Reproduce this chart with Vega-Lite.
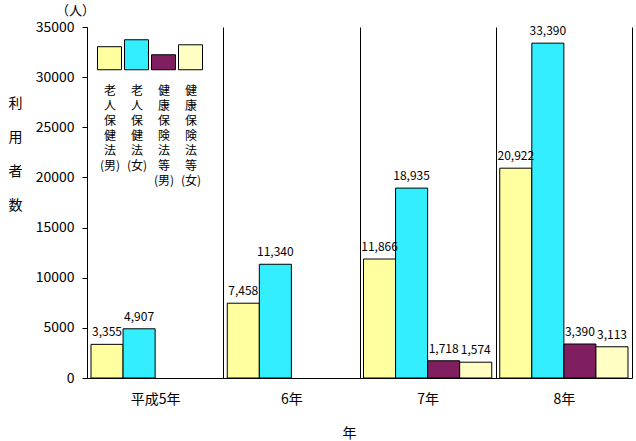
{
  "$schema": "https://vega.github.io/schema/vega-lite/v6.json",
  "width": 545,
  "height": 351,
  "autosize": {"type": "none"},
  "padding": {"left": 87, "top": 27, "right": 4, "bottom": 63},
  "background": "white",
  "title": {"text": "（人）", "anchor": "start", "frame": "group", "dx": -31, "offset": 2, "fontSize": 13, "fontWeight": "normal", "font": "Noto Sans CJK JP", "color": "black"},
  "config": {
    "view": {"stroke": null},
    "font": "Noto Sans CJK JP",
    "text": {"font": "Noto Sans CJK JP"}
  },
  "data": {
    "values": [
      {"year": "平成5年", "series": "老人保健法(男)", "value": 3355},
      {"year": "平成5年", "series": "老人保健法(女)", "value": 4907},
      {"year": "6年", "series": "老人保健法(男)", "value": 7458},
      {"year": "6年", "series": "老人保健法(女)", "value": 11340},
      {"year": "7年", "series": "老人保健法(男)", "value": 11866},
      {"year": "7年", "series": "老人保健法(女)", "value": 18935},
      {"year": "7年", "series": "健康保険法等(男)", "value": 1718},
      {"year": "7年", "series": "健康保険法等(女)", "value": 1574},
      {"year": "8年", "series": "老人保健法(男)", "value": 20922},
      {"year": "8年", "series": "老人保健法(女)", "value": 33390},
      {"year": "8年", "series": "健康保険法等(男)", "value": 3390},
      {"year": "8年", "series": "健康保険法等(女)", "value": 3113}
    ]
  },
  "encoding": {
    "x": {
      "field": "year", "type": "nominal",
      "sort": ["平成5年", "6年", "7年", "8年"],
      "scale": {"paddingInner": 0, "paddingOuter": 0},
      "axis": {
        "title": "年", "labelAngle": 0, "grid": true, "tickBand": "extent",
        "gridColor": "black", "gridOpacity": 1, "gridWidth": 1,
        "ticks": false, "domainColor": "black", "domainWidth": 1,
        "labelFontSize": 14, "labelColor": "black", "labelPadding": 14,
        "titleFontSize": 14, "titleFontWeight": "normal", "titleColor": "black",
        "titlePadding": 20, "titleX": 262
      }
    },
    "xOffset": {
      "field": "series", "type": "nominal",
      "sort": ["老人保健法(男)", "老人保健法(女)", "健康保険法等(男)", "健康保険法等(女)"],
      "scale": {"domain": ["老人保健法(男)", "老人保健法(女)", "健康保険法等(男)", "健康保険法等(女)"], "paddingOuter": 0.125, "paddingInner": 0}
    },
    "y": {
      "field": "value", "type": "quantitative",
      "scale": {"domain": [0, 35000], "nice": false},
      "axis": {
        "values": [0, 5000, 10000, 15000, 20000, 25000, 30000, 35000],
        "format": "d", "grid": false,
        "domainColor": "black", "tickColor": "black", "tickSize": 5,
        "labelFontSize": 14, "labelColor": "black", "labelPadding": 8,
        "title": ["利", "用", "者", "数"], "titleAngle": 0, "titleLineHeight": 34,
        "titleX": -72, "titleY": 76, "titleBaseline": "middle", "titleAlign": "center",
        "titleFontSize": 14, "titleFontWeight": "normal", "titleColor": "black"
      }
    }
  },
  "layer": [
    {
      "mark": {"type": "bar", "stroke": "black", "strokeWidth": 1, "opacity": 1},
      "encoding": {
        "color": {
          "field": "series", "type": "nominal",
          "sort": ["老人保健法(男)", "老人保健法(女)", "健康保険法等(男)", "健康保険法等(女)"],
          "scale": {"domain": ["老人保健法(男)", "老人保健法(女)", "健康保険法等(男)", "健康保険法等(女)"], "range": ["#FFFFA0", "#33EEFF", "#7F1F5F", "#FFFFC4"]},
          "legend": {
            "orient": "none", "legendX": 10, "legendY": 18, "padding": 0,
            "direction": "horizontal", "columns": 4, "title": null,
            "symbolType": "square", "symbolSize": 576,
            "symbolStrokeColor": "black", "symbolStrokeWidth": 1, "symbolOpacity": 1,
            "labelAlign": "center", "labelBaseline": "top", "labelOffset": -12,
            "labelFontSize": 12, "labelColor": "black", "labelLimit": 0,
            "columnPadding": -14, "rowPadding": 0,
            "labelExpr": "datum.label == '老人保健法(男)' ? ['老','人','保','健','法','(男)',''] : datum.label == '老人保健法(女)' ? ['老','人','保','健','法','(女)',''] : datum.label == '健康保険法等(男)' ? ['健','康','保','険','法','等','(男)'] : ['健','康','保','険','法','等','(女)']",
            "encode": {
              "labels": {"update": {"lineHeight": {"value": 15}, "dy": {"value": 28}, "baseline": {"value": "top"}}},
              "symbols": {"update": {"shape": {"signal": "datum.value == '老人保健法(男)' ? 'M-1,1V-0.92H1V1Z' : datum.value == '老人保健法(女)' ? 'M-1,1V-1.5H1V1Z' : datum.value == '健康保険法等(男)' ? 'M-1,1V-0.25H1V1Z' : 'M-1,1V-1.08H1V1Z'"}}}
            }
          }
        }
      }
    },
    {
      "mark": {"type": "text", "dy": -12, "fontSize": 12, "color": "black"},
      "encoding": {
        "text": {"field": "value", "type": "quantitative", "format": ","}
      }
    }
  ]
}
